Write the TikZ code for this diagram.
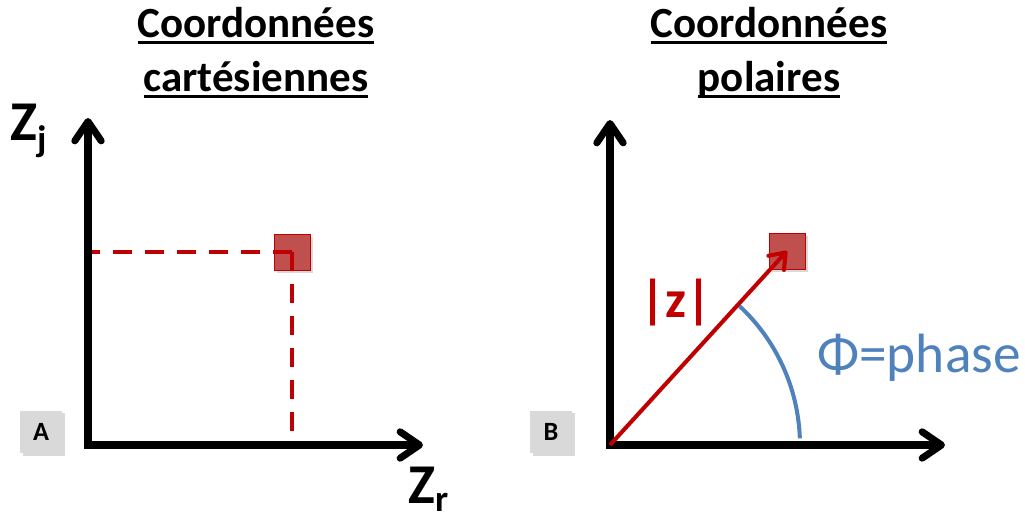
\documentclass[tikz,border=0pt]{standalone}
\usepackage{fontspec}
\setmainfont{Carlito}
\usetikzlibrary{arrows.meta, positioning, shadows, calc}
\definecolor{vecred}{RGB}{192,0,0}
\definecolor{ptred}{RGB}{192,80,77}
\definecolor{phaseblue}{RGB}{79,129,189}
\definecolor{taggray}{RGB}{217,217,217}
\newcommand{\souligne}[1]{\setbox0\hbox{#1}\rlap{\rule[-0.14em]{\wd0}{0.065em}}\box0}
\newcommand{\bigfont}{\bfseries\fontsize{24.5}{29}\selectfont}
\newcommand{\axisfont}{\bfseries\fontsize{32}{32}\selectfont}
\newcommand{\subfont}{\bfseries\fontsize{21}{21}\selectfont}

\tikzset{
    axes/.style={line width=4pt, line join=miter,
        {Straight Barb[round,length=11pt,width=15pt]}-{Straight Barb[round,length=11pt,width=15pt]}},
    guide/.style={vecred, line width=2.5pt, dash pattern=on 10.8pt off 7.4pt},
    vec/.style={vecred, line width=2.3pt, -{Straight Barb[round,length=8pt,width=12pt]}},
    phase/.style={phaseblue, line width=2.3pt},
    pt/.style={draw=vecred, thin, fill=ptred, minimum size=20.5pt, inner sep=0pt,
        drop shadow={shadow xshift=1.5pt, shadow yshift=-1.5pt, opacity=0.3}},
    tag/.style={fill=taggray, minimum width=23.8pt, minimum height=24.4pt, inner sep=0pt,
        font=\bfseries\fontsize{15}{15}\selectfont,
        drop shadow={shadow xshift=1.5pt, shadow yshift=-1.5pt, opacity=0.3}},
    title/.style={anchor=base, font=\bigfont, inner sep=0pt}
}

\begin{document}
\begin{tikzpicture}[x=0.02cm, y=-0.02cm]
    \useasboundingbox (0,0) rectangle (1025,513);

    % titres
    \node[title] (titleA1) at (256,38) {\souligne{Coordonnées}};
    \node[title] (titleA2) at (256,92) {\souligne{cartésiennes}};
    \node[title] (titleB1) at (769,38) {\souligne{Coordonnées}};
    \node[title] (titleB2) at (769,92) {\souligne{polaires}};

    % repere cartesien
    \coordinate (oA) at (88,445);
    \coordinate (topA) at (88,118);
    \coordinate (rightA) at (423,445);
    \node[pt] (ptA) at (292,252) {};
    \draw[guide] (ptA.center) -- (oA |- ptA.center);
    \draw[guide, shorten >=4.5pt] (ptA.center) -- (ptA.center |- oA);
    \draw[axes] (topA) -- (oA) -- (rightA);
    \node[anchor=base west, inner sep=0pt, font=\axisfont] (zj) at (10,141)
        {Z\raisebox{-6pt}{\subfont j}};
    \node[anchor=base west, inner sep=0pt, font=\axisfont] (zr) at (408,503)
        {Z\raisebox{-5pt}{\subfont r}};
    \node[tag] (tagA) at (41,432) {A};

    % repere polaire
    \coordinate (oB) at (610,445);
    \coordinate (topB) at (610,120);
    \coordinate (rightB) at (945,445);
    \draw[axes] (topB) -- (oB) -- (rightB);
    \node[pt] (ptB) at (787,251) {};
    \draw[vec] (oB) -- (ptB.center);
    \draw[phase] ($(oB)+(47:3.8cm)$) arc[start angle=47, end angle=2, radius=3.8cm];
    \node[text=vecred, font=\bfseries\fontsize{30}{30}\selectfont] (modz) at (676,303) {|z|};
    \node[anchor=base west, inner sep=0pt, text=phaseblue, font=\fontsize{31.5}{31.5}\selectfont]
        (phaseLbl) at (817,373) {Φ=phase};
    \node[tag] (tagB) at (551,432) {B};
\end{tikzpicture}
\end{document}
